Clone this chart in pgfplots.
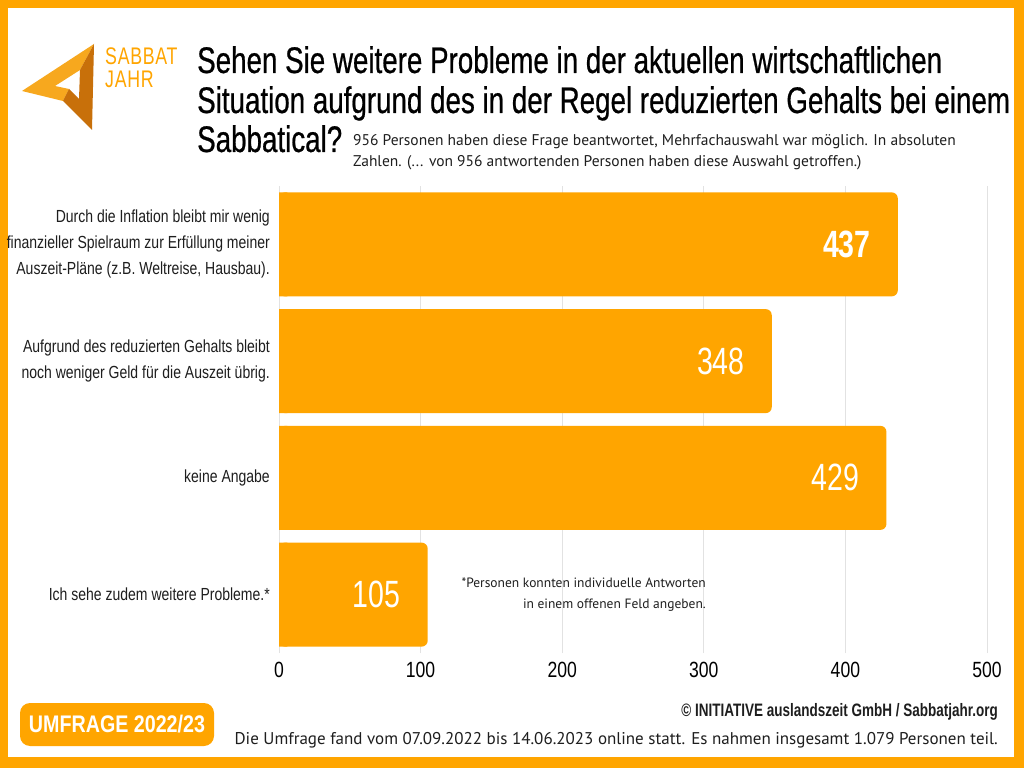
\documentclass[border=0pt]{standalone}
\usepackage{pgfplots}
\pgfplotsset{compat=1.18}
\usepackage{fontspec}
\setmainfont{PT Sans}
\newfontfamily\osw[FakeStretch=0.75]{Liberation Sans}
\newfontfamily\oswt[FakeStretch=0.75,FakeBold=0.6]{Liberation Sans}
\newfontfamily\oswl[FakeStretch=0.80]{Liberation Sans}
\newfontfamily\oswu[FakeStretch=0.82]{Liberation Sans}
\newfontfamily\logofont[FakeStretch=0.74,LetterSpace=3]{Liberation Sans}
\definecolor{org}{RGB}{255,165,0}
\definecolor{logoL}{RGB}{247,168,30}
\definecolor{logoD}{RGB}{200,112,10}
\definecolor{gridc}{RGB}{226,226,226}
\definecolor{txt}{RGB}{30,30,30}
\begin{document}
\begin{tikzpicture}[x=1pt,y=1pt]
\path[use as bounding box] (0,0) rectangle (1024,768);
\fill[org] (0,0) rectangle (1024,768);
\fill[white] (8,11) rectangle (1014,760);
% logo
\fill[logoL] (22,677) -- (94,724) -- (80,698) -- (55,682) -- (69,679) -- (63,667) -- cycle;
\fill[logoD] (94,724) -- (92,638) -- (63,667) -- (69,679) -- (79,669) -- (80,698) -- cycle;
\node[anchor=base west, inner sep=0, text=org, font=\logofont\fontsize{24}{24}\selectfont] at (105,703) {SABBAT};
\node[anchor=base west, inner sep=0, text=org, font=\logofont\fontsize{24}{24}\selectfont] at (105,680) {JAHR};
% title
\node[anchor=base west, inner sep=0, text=black, font=\oswt\fontsize{37}{37}\selectfont] at (197,695) {Sehen Sie weitere Probleme in der aktuellen wirtschaftlichen};
\node[anchor=base west, inner sep=0, text=black, font=\oswt\fontsize{37}{37}\selectfont] at (197,655) {Situation aufgrund des in der Regel reduzierten Gehalts bei einem};
\node[anchor=base west, inner sep=0, text=black, font=\oswt\fontsize{37}{37}\selectfont] at (197,616) {Sabbatical?};
\node[anchor=base west, inner sep=0, text=txt, font=\fontsize{15.5}{21}\selectfont] at (353,622) {956 Personen haben diese Frage beantwortet, Mehrfachauswahl war möglich. In absoluten};
\node[anchor=base west, inner sep=0, text=txt, font=\fontsize{15.5}{21}\selectfont] at (353,601) {Zahlen. (... von 956 antwortenden Personen haben diese Auswahl getroffen.)};
% chart
\begin{axis}[at={(279pt,115pt)}, anchor=south west, width=708pt, height=467pt, scale only axis,
  xmin=0, xmax=500, ymin=-0.5, ymax=3.5,
  xbar, bar width=104pt, bar shift=0pt, clip=false,
  axis line style={draw=none}, major tick length=0pt,
  xtick={0,100,200,300,400,500}, ytick={0,1,2,3},
  yticklabels={{Ich sehe zudem weitere Probleme.*},
    {keine Angabe},
    {Aufgrund des reduzierten Gehalts bleibt\\noch weniger Geld für die Auszeit übrig.},
    {Durch die Inflation bleibt mir wenig\\finanzieller Spielraum zur Erfüllung meiner\\Auszeit-Pläne (z.B. Weltreise, Hausbau).}},
  yticklabel style={align=right, inner sep=0pt, xshift=-9pt, text=txt, font=\oswl\fontsize{17.5}{26}\selectfont},
  xticklabel style={inner sep=0pt, yshift=-9pt, text=black, font=\oswl\fontsize{22}{22}\selectfont},
  /pgf/number format/assume math mode=true,
  xmajorgrids, grid style={gridc, line width=1pt},
]
\addplot[fill=org, draw=none, rounded corners=6pt, point meta=explicit symbolic,
  nodes near coords={\pgfplotspointmeta},
  every node near coord/.append style={anchor=east, xshift=-27pt, text=white, inner sep=0pt, font=\osw\fontsize{38}{38}\selectfont}]
  coordinates {(105,0) [105] (429,1) [429] (348,2) [348] (437,3) [{\bfseries 437}]};
\addplot[fill=org, draw=none, forget plot] coordinates {(6,0) (6,1) (6,2) (6,3)};
\end{axis}
% footnote
\node[anchor=base east, inner sep=0, text=txt, font=\fontsize{13.5}{21}\selectfont] at (706,180) {*Personen konnten individuelle Antworten};
\node[anchor=base east, inner sep=0, text=txt, font=\fontsize{13.5}{21}\selectfont] at (706,159) {in einem offenen Feld angeben.};
% footer
\fill[org, rounded corners=10pt] (20,22) rectangle (214,65);
\node[text=white, inner sep=0, font=\oswu\bfseries\fontsize{24}{24}\selectfont] at (117,43.5) {UMFRAGE 2022/23};
\node[anchor=base east, inner sep=0, text=txt, font=\osw\bfseries\fontsize{18}{18}\selectfont] at (998,52) {© INITIATIVE auslandszeit GmbH / Sabbatjahr.org};
\node[anchor=base east, inner sep=0, text=txt, font=\fontsize{17}{18}\selectfont] at (998,24) {Die Umfrage fand vom 07.09.2022 bis 14.06.2023 online statt. Es nahmen insgesamt 1.079 Personen teil.};
\end{tikzpicture}
\end{document}
